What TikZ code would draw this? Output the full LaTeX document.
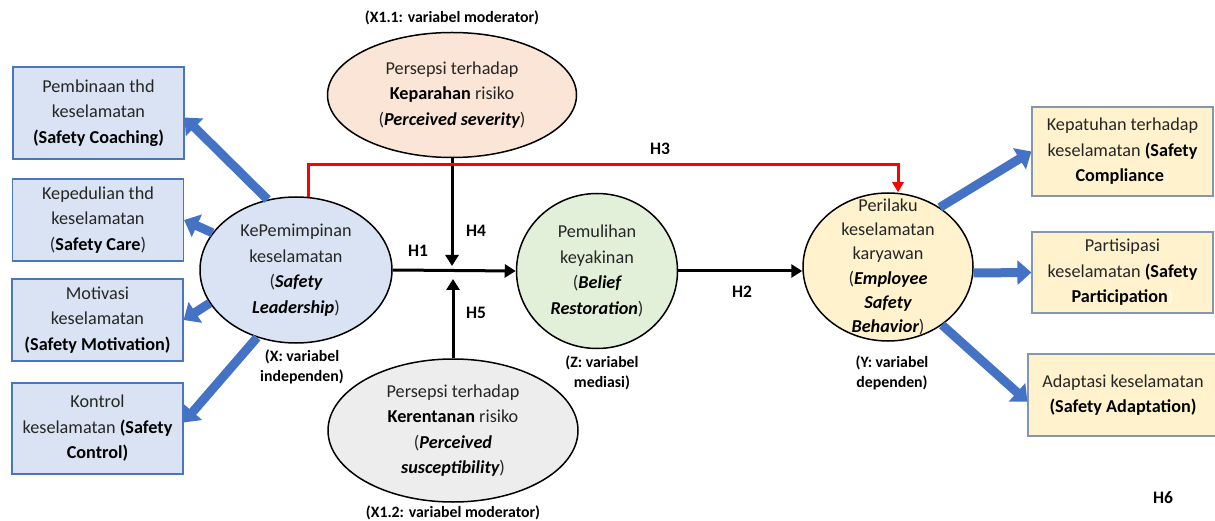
\documentclass[tikz,border=0pt]{standalone}
\usepackage{fontspec}
\setmainfont{Carlito}
\usetikzlibrary{shapes.geometric, arrows.meta}

\definecolor{boxblue}{HTML}{DAE3F3}
\definecolor{edgeblue}{HTML}{4A76C0}
\definecolor{boxcream}{HTML}{FFF2CC}
\definecolor{edgegray}{HTML}{8497B0}
\definecolor{ovalpeach}{HTML}{FBE5D6}
\definecolor{ovalgreen}{HTML}{E2F0D9}
\definecolor{ovalgray}{HTML}{EDEDED}
\definecolor{arrowblue}{HTML}{4472C4}
\definecolor{hred}{HTML}{FF0000}
\definecolor{txtgray}{HTML}{262626}

\newcommand{\keyterm}[1]{{\color{black}\bfseries #1}}

\begin{document}
\begin{tikzpicture}[
    x=1pt, y=-1pt,
    font=\fontsize{18.2}{25.5}\selectfont,
    dimbox/.style={
        rectangle, draw=edgeblue, line width=1.2pt,
        fill=boxblue, text=txtgray,
        minimum width=171pt, align=center, inner sep=0pt
    },
    outbox/.style={
        rectangle, draw=edgegray, line width=1.2pt,
        fill=boxcream, text=txtgray,
        minimum width=181pt, align=center, inner sep=0pt
    },
    construct/.style={
        ellipse, draw=black, line width=1.5pt,
        text=txtgray, align=center, inner sep=0pt
    },
    varnote/.style={font=\fontsize{15.8}{20}\selectfont\bfseries, text=black, align=center},
    hyp/.style={font=\fontsize{17.5}{20}\selectfont\bfseries, text=black},
    link/.style={draw=black, line width=3pt, -{Triangle[width=13pt,length=11pt]}},
    hthree/.style={draw=hred, line width=3pt, -{Triangle[width=11pt,length=10pt]}},
    dimarrow/.style={draw=arrowblue, line width=9pt, -{Triangle[width=24pt,length=14pt]}}
]
\useasboundingbox (0,0) rectangle (1215,521);

% ---------------------------------------------------------------------
% 1. LEFT: SAFETY LEADERSHIP AND ITS DIMENSIONS
% ---------------------------------------------------------------------
\node[construct, fill=boxblue, minimum width=192pt, minimum height=146pt] (LDR) at (296,270)
    {KePemimpinan\\keselamatan\\(\keyterm{\itshape Safety}\\\keyterm{\itshape Leadership})};
\node[varnote] (LDRnote) at (302,367) {(X: variabel\\independen)};

\node[dimbox, minimum height=92pt] (CCH) at (98.5,113) {Pembinaan thd\\keselamatan\\\keyterm{(Safety Coaching)}};
\node[dimbox, minimum height=82pt] (CAR) at (98,220) {Kepedulian thd\\keselamatan\\(\keyterm{Safety Care})};
\node[dimbox, minimum height=82pt] (MOT) at (97.5,320) {Motivasi\\keselamatan\\\keyterm{(Safety Motivation)}};
\node[dimbox, minimum height=91pt] (CTL) at (97.5,428.5) {Kontrol\\keselamatan \keyterm{(Safety}\\\keyterm{Control)}};

\draw[dimarrow] (LDR.112) -- (CCH.-3);
\draw[dimarrow] (LDR.156) -- (CAR.east);
\draw[dimarrow] (LDR.201) -- (MOT.east);
\draw[dimarrow] (LDR.240) -- (CTL.4);

% ---------------------------------------------------------------------
% 2. TOP / BOTTOM: MODERATORS
% ---------------------------------------------------------------------
\node[construct, fill=ovalpeach, minimum width=249pt, minimum height=125pt] (SEV) at (452,95)
    {Persepsi terhadap\\\keyterm{Keparahan} risiko\\(\keyterm{\itshape Perceived severity})};
\node[varnote] (SEVnote) at (452,18) {(X1.1: variabel moderator)};

\node[construct, fill=ovalgray, minimum width=250pt, minimum height=143pt] (SUS) at (453,430.5)
    {Persepsi terhadap\\\keyterm{Kerentanan} risiko\\(\keyterm{\itshape Perceived}\\\keyterm{\itshape susceptibility})};
\node[varnote] (SUSnote) at (453,513) {(X1.2: variabel moderator)};

% ---------------------------------------------------------------------
% 3. CENTER: MEDIATOR
% ---------------------------------------------------------------------
\node[construct, fill=ovalgreen, minimum width=161pt, minimum height=155pt] (BLF) at (597,271)
    {Pemulihan\\keyakinan\\(\keyterm{\itshape Belief}\\\keyterm{\itshape Restoration})};
\node[varnote] (BLFnote) at (602,373) {(Z: variabel\\mediasi)};

% ---------------------------------------------------------------------
% 4. RIGHT: EMPLOYEE SAFETY BEHAVIOR AND ITS DIMENSIONS
% ---------------------------------------------------------------------
\node[construct, fill=boxcream, minimum width=170pt, minimum height=148pt] (ESB) at (888,267) {};
\node[align=center, text=txtgray, font=\fontsize{18.2}{24.3}\selectfont] (ESBtxt) at (ESB)
    {Perilaku\\keselamatan\\karyawan\\(\keyterm{\itshape Employee}\\\keyterm{\itshape Safety}\\\keyterm{\itshape Behavior})};
\node[varnote] (ESBnote) at (892,373) {(Y: variabel\\dependen)};

\node[outbox, minimum height=89pt] (CMP) at (1122.5,151.5) {Kepatuhan terhadap\\keselamatan \keyterm{(Safety}\\\keyterm{Compliance}\textcolor{white}{)}};
\node[outbox, minimum height=81pt] (PAR) at (1122.5,272.5) {Partisipasi\\keselamatan \keyterm{(Safety}\\\keyterm{Participation}\textcolor{white}{)}};
\node[outbox, minimum width=190pt, minimum height=82pt] (ADP) at (1123,395) {Adaptasi keselamatan\\\keyterm{(Safety Adaptation)}};

\draw[dimarrow] (ESB.49) -- (CMP.west);
\draw[dimarrow] (ESB.-4) -- (PAR.west);
\draw[dimarrow] (ESB.-47) -- (ADP.184);

% ---------------------------------------------------------------------
% HYPOTHESES
% ---------------------------------------------------------------------
\coordinate (H4end) at (452,266);
\coordinate (H5end) at (453,279);
\coordinate (H3turn) at (898,165);

\draw[link] (LDR.east) -- (BLF.west);
\draw[link] (BLF.east) -- (BLF.east -| ESB.west);
\draw[link] (SEV) -- (H4end);
\draw[link] (SUS) -- (H5end);
\draw[hthree] (LDR.80) |- (H3turn) -- (H3turn |- ESB.north);

\node[hyp] (H1) at (418,251) {H1};
\node[hyp] (H2) at (742,292) {H2};
\node[hyp] (H3) at (660,149) {H3};
\node[hyp] (H4) at (476,231) {H4};
\node[hyp] (H5) at (476,313) {H5};
\node[hyp] (H6) at (1163,498) {H6};

\end{tikzpicture}
\end{document}
